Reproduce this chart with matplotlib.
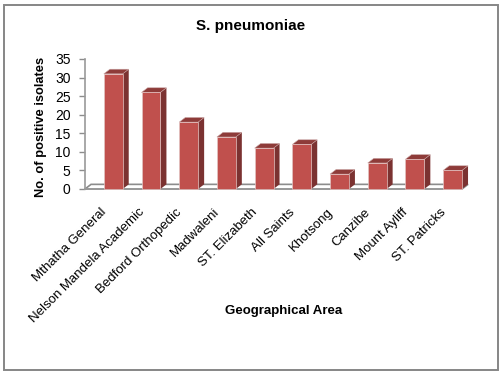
import matplotlib.pyplot as plt
from matplotlib.patches import Polygon, Rectangle
from matplotlib.transforms import ScaledTranslation

plt.rcParams['font.family'] = ['Liberation Sans', 'DejaVu Sans']

W = 501
H = 372
DX = 0.16  # depth of the 3d effect in category units
DY = 1.25  # same in value units
BAR_W = 0.5

areas = ["Mthatha General", "Nelson Mandela Academic", "Bedford Orthopedic",
         "Madwaleni", "ST. Elizabeth", "All Saints", "Khotsong", "Canzibe",
         "Mount Ayliff", "ST. Patricks"]
isolates = [31, 26, 18, 14, 11, 12, 4, 7, 8, 5]
yticks = [0, 5, 10, 15, 20, 25, 30, 35]

fig = plt.figure(figsize=(W / 100, H / 100), dpi=100)
fig.patches.append(Rectangle((3.5 / W, 2.5 / H), 494.5 / W, 364.5 / H, fill=False,
                             edgecolor='#868686', linewidth=1.4,
                             transform=fig.transFigure))

ax = fig.add_axes([85 / W, 1 - 189 / H, 377 / W, 130 / H])
ax.set_xlim(-0.75, 9.25)
ax.set_ylim(0, 35)

# floor of the 3d box
x0, x1 = ax.get_xlim()
ax.add_patch(Polygon([(x0, 0), (x0 + DX, DY), (x1 + DX, DY), (x1, 0)],
                     closed=True, facecolor='white', edgecolor='#8c8c8c',
                     linewidth=1.2, clip_on=False, zorder=1))

for i, v in enumerate(isolates):
    left = i - BAR_W / 2
    right = i + BAR_W / 2
    ax.add_patch(Polygon([(right, 0), (right + DX, DY), (right + DX, v + DY), (right, v)],
                         closed=True, facecolor='#7b3231', edgecolor='none',
                         clip_on=False, zorder=3))
    ax.add_patch(Polygon([(left, v), (left + DX, v + DY), (right + DX, v + DY), (right, v)],
                         closed=True, facecolor='#8e3b39', edgecolor='#c9a5a4',
                         linewidth=0.4, clip_on=False, zorder=3))
ax.bar(range(len(isolates)), isolates, width=BAR_W, color='#c0504d',
       edgecolor='#e3c4c3', linewidth=0.5, zorder=4, clip_on=False)

ax.set_yticks(yticks)
ax.set_xticks(range(len(areas)))
ax.set_xticklabels(areas, rotation=45, ha='right', rotation_mode='anchor',
                   fontsize=9.5, color='black')
ax.tick_params(axis='x', length=0, pad=8)
ax.tick_params(axis='y', length=4, width=1, color='#8c8c8c', labelsize=10, pad=6.5)

# labels sit left of and below the category centres
shift = ScaledTranslation(-13 / 100, -6 / 100, fig.dpi_scale_trans)
for label in ax.get_xticklabels():
    label.set_transform(label.get_transform() + shift)

for s in ['top', 'right']:
    ax.spines[s].set_visible(False)
for s in ['left', 'bottom']:
    ax.spines[s].set_color('#9a9a9a')
    ax.spines[s].set_linewidth(1.2)
ax.spines['bottom'].set_zorder(2)

fig.text(251 / W, 1 - 26 / H, "S. pneumoniae", fontsize=11, fontweight='bold',
         ha='center', va='center')
fig.text(41 / W, 1 - 127 / H, "No. of positive isolates", fontsize=9.3, fontweight='bold',
         rotation=90, ha='center', va='center')
fig.text(284 / W, 1 - 311 / H, "Geographical Area", fontsize=9.5, fontweight='bold',
         ha='center', va='center')

fig.savefig('out.png', dpi=100)
